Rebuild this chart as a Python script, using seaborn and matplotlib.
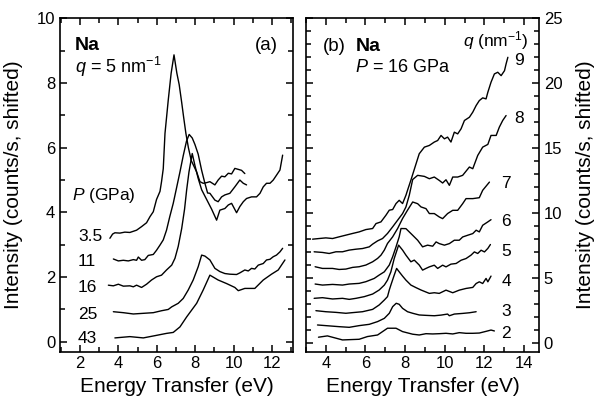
import matplotlib
matplotlib.use("Agg")
import matplotlib.pyplot as plt
import seaborn as sns
import pandas as pd
from matplotlib.ticker import MultipleLocator

# ---------------- Panel (a): Na, q = 5 nm^-1, several pressures ----------------
pressures = ["3.5", "11", "16", "25", "43"]

p35_E = [3.56, 3.70, 3.82, 4.08, 4.34, 4.60, 4.95, 5.21, 5.47, 5.65, 5.82, 5.99, 6.17, 6.25, 6.34,
         6.43, 6.60, 6.75, 6.90, 7.05, 7.17, 7.30, 7.40, 7.52, 7.65, 7.80, 8.08, 8.25, 8.42, 8.60,
         8.77, 9.03, 9.20, 9.38, 9.55, 9.73, 9.90, 10.07, 10.25, 10.42, 10.59]
p35_I = [3.20, 3.33, 3.37, 3.36, 3.39, 3.38, 3.45, 3.56, 3.68, 3.87, 4.02, 4.40, 4.65, 4.95, 5.35,
         6.44, 7.47, 8.30, 8.87, 8.30, 7.95, 7.40, 6.95, 6.44, 6.00, 5.60, 5.25, 4.95, 4.90, 4.92,
         4.95, 4.85, 5.00, 5.12, 5.10, 5.21, 5.19, 5.36, 5.33, 5.30, 5.20]

p11_E = [3.74, 4.00, 4.26, 4.52, 4.78, 4.95, 5.04, 5.21, 5.38, 5.56, 5.82, 5.99, 6.17, 6.34, 6.51,
         6.68, 6.86, 7.03, 7.21, 7.38, 7.55, 7.69, 7.85, 7.99, 8.16, 8.34, 8.51, 8.65, 8.77, 9.03,
         9.20, 9.38, 9.55, 9.81, 10.07, 10.33, 10.51, 10.68]
p11_I = [2.56, 2.50, 2.52, 2.50, 2.54, 2.52, 2.62, 2.52, 2.54, 2.67, 2.70, 2.83, 2.99, 3.15, 3.45,
         3.87, 4.28, 4.75, 5.25, 5.75, 6.20, 6.41, 6.30, 6.10, 5.80, 5.30, 4.90, 4.60, 4.59, 4.38,
         4.33, 4.48, 4.54, 4.59, 4.79, 5.00, 4.90, 4.85]

p16_E = [3.48, 3.74, 4.00, 4.26, 4.60, 4.78, 4.95, 5.21, 5.47, 5.73, 5.99, 6.25, 6.51, 6.78, 6.95,
         7.12, 7.30, 7.45, 7.56, 7.68, 7.85, 7.99, 8.16, 8.34, 8.60, 8.86, 9.12, 9.29, 9.55, 9.73,
         9.90, 10.16, 10.33, 10.51, 10.68, 10.94, 11.20, 11.38, 11.55, 11.72, 11.90, 12.07, 12.24,
         12.42, 12.56]
p16_I = [1.75, 1.73, 1.78, 1.72, 1.73, 1.70, 1.75, 1.68, 1.78, 1.91, 2.01, 2.06, 2.22, 2.37, 2.58,
         2.95, 3.50, 4.10, 4.70, 5.25, 5.82, 5.45, 5.05, 4.70, 4.40, 4.10, 3.76, 4.07, 4.12, 4.23,
         4.28, 3.99, 4.18, 4.33, 4.43, 4.48, 4.48, 4.59, 4.79, 4.90, 4.90, 5.00, 5.15, 5.31, 5.77]

p25_E = [3.74, 4.26, 4.78, 5.30, 5.82, 6.25, 6.60, 6.78, 7.12, 7.38, 7.64, 7.90, 8.16, 8.34, 8.51,
         8.77, 9.03, 9.29, 9.55, 9.81, 10.16, 10.33, 10.59, 10.77, 10.94, 11.11, 11.29, 11.55, 11.72,
         11.90, 12.07, 12.24, 12.42, 12.56]
p25_I = [0.93, 0.90, 0.86, 0.88, 0.90, 0.96, 1.00, 1.08, 1.19, 1.34, 1.60, 1.91, 2.32, 2.68, 2.65,
         2.53, 2.27, 2.17, 2.11, 2.09, 2.08, 2.13, 2.22, 2.19, 2.27, 2.25, 2.37, 2.42, 2.53, 2.55,
         2.63, 2.68, 2.78, 2.89]

p43_E = [3.82, 4.60, 5.30, 5.91, 6.51, 6.86, 7.21, 7.56, 8.08, 8.42, 8.77, 9.20, 9.64, 10.07,
         10.25, 10.59, 11.11, 11.55, 11.98, 12.33, 12.68]
p43_I = [0.12, 0.16, 0.12, 0.19, 0.26, 0.29, 0.46, 0.77, 1.19, 1.60, 2.06, 1.91, 1.80, 1.68,
         1.58, 1.65, 1.65, 1.91, 2.09, 2.22, 2.53]

# label anchor (E, I) for pressure labels
p_label_E = [1.90, 1.90, 1.90, 1.90, 1.90]
p_label_I = [3.12, 2.34, 1.55, 0.72, -0.03]

# ---------------- Panel (b): Na, P = 16 GPa, several q ----------------
qvals = ["2", "3", "4", "5", "6", "7", "8", "9"]

q2_E = [3.63, 4.08, 4.45, 4.84, 5.68, 6.10, 6.61, 7.11, 7.54, 7.87, 8.38, 8.71, 9.05, 9.39, 9.72,
        10.06, 10.40, 10.73, 11.07, 11.41, 11.74, 12.08, 12.33, 12.50]
q2_I = [0.47, 0.57, 0.42, 0.26, 0.31, 0.52, 0.64, 1.16, 1.16, 0.90, 0.70, 0.64, 0.74, 0.72, 0.74,
        0.77, 0.72, 0.82, 0.77, 0.77, 0.79, 0.92, 1.02, 0.95]

q3_E = [3.58, 4.00, 4.67, 5.18, 5.68, 6.19, 6.61, 6.95, 7.20, 7.37, 7.55, 7.70, 7.87, 8.12, 8.38,
        8.71, 9.05, 9.47, 9.81, 10.14, 10.23, 10.48, 10.90, 11.24, 11.58]
q3_I = [1.41, 1.36, 1.28, 1.23, 1.36, 1.46, 1.67, 1.92, 2.31, 2.82, 3.08, 3.00, 2.69, 2.43, 2.31,
        2.18, 2.15, 2.12, 2.17, 2.25, 2.12, 2.25, 2.30, 2.35, 2.43]

q4_E = [3.50, 4.00, 4.51, 5.01, 5.35, 5.85, 6.36, 6.69, 6.95, 7.11, 7.20, 7.28, 7.45, 7.57, 7.70,
        7.87, 8.04, 8.29, 8.55, 8.80, 9.22, 9.47, 9.72, 10.06, 10.40, 10.73, 11.07, 11.41, 11.58,
        11.74, 11.91, 12.08, 12.17, 12.33]
q4_I = [2.51, 2.43, 2.38, 2.31, 2.36, 2.43, 2.61, 2.95, 3.33, 3.59, 4.10, 4.48, 5.25, 5.76, 5.50,
        5.17, 4.86, 4.48, 4.28, 4.10, 3.84, 3.89, 3.84, 4.09, 3.89, 4.09, 4.22, 4.30, 4.60, 4.73,
        4.60, 4.99, 4.73, 5.17]

q5_E = [3.41, 3.83, 4.34, 4.84, 5.18, 5.52, 5.94, 6.36, 6.69, 6.95, 7.11, 7.28, 7.45, 7.67, 7.87,
        8.04, 8.29, 8.46, 8.71, 8.88, 9.05, 9.22, 9.47, 9.64, 9.89, 10.06, 10.31, 10.57, 10.82,
        11.07, 11.32, 11.49, 11.66, 11.83, 12.00, 12.17, 12.30]
q5_I = [3.46, 3.51, 3.41, 3.46, 3.38, 3.46, 3.59, 3.79, 4.10, 4.48, 4.86, 5.50, 6.53, 7.55, 7.17,
        6.78, 6.27, 6.40, 6.02, 5.63, 5.76, 5.88, 6.01, 5.76, 6.01, 5.88, 6.09, 6.14, 6.39, 6.52,
        6.78, 7.03, 6.91, 7.16, 7.03, 7.30, 7.60]

q6_E = [3.46, 3.83, 4.34, 4.84, 5.18, 5.68, 6.02, 6.44, 6.69, 6.95, 7.20, 7.37, 7.54, 7.70, 7.79,
        8.04, 8.38, 8.63, 8.88, 9.13, 9.39, 9.56, 9.72, 9.98, 10.23, 10.48, 10.73, 10.90, 11.15,
        11.41, 11.58, 11.74, 11.91, 12.17, 12.33]
q6_I = [4.56, 4.48, 4.53, 4.48, 4.56, 4.61, 4.74, 4.99, 5.25, 5.50, 6.02, 6.66, 7.42, 8.19, 8.83,
        8.82, 8.31, 7.93, 7.42, 7.55, 7.47, 7.80, 7.67, 7.55, 7.67, 7.93, 7.93, 8.18, 8.31, 8.44,
        8.70, 8.57, 9.08, 9.34, 9.51]

q7_E = [3.46, 3.83, 4.34, 4.67, 5.01, 5.35, 5.68, 6.02, 6.36, 6.61, 6.78, 6.95, 7.11, 7.37, 7.62,
        7.87, 8.12, 8.38, 8.63, 8.80, 9.05, 9.22, 9.47, 9.72, 9.89, 10.14, 10.40, 10.65, 10.90,
        11.07, 11.41, 11.74, 11.91, 12.25]
q7_I = [5.89, 5.76, 5.76, 5.68, 5.71, 5.84, 5.89, 6.02, 6.27, 6.53, 6.78, 7.17, 7.68, 8.19, 8.83,
        9.60, 10.24, 10.87, 10.74, 10.49, 10.36, 9.98, 9.98, 9.72, 9.59, 9.98, 10.23, 10.23, 10.74,
        11.13, 11.13, 11.20, 11.77, 12.40]

q8_E = [3.41, 3.83, 4.17, 4.51, 4.84, 5.18, 5.52, 5.85, 6.19, 6.36, 6.61, 6.86, 7.11, 7.37, 7.62,
        7.87, 8.04, 8.21, 8.38, 8.63, 8.97, 9.22, 9.47, 9.72, 9.89, 10.06, 10.23, 10.40, 10.65,
        10.90, 11.24, 11.41, 11.66, 11.91, 12.17, 12.33, 12.59, 12.75, 12.92, 13.09]
q8_I = [7.04, 6.99, 6.91, 7.04, 7.04, 7.17, 7.24, 7.29, 7.42, 7.63, 7.88, 8.06, 8.45, 8.96, 9.47,
        9.98, 10.49, 11.40, 12.60, 12.92, 12.84, 12.66, 12.79, 12.53, 12.33, 12.58, 12.15, 12.79,
        12.79, 12.92, 13.56, 13.43, 14.45, 15.09, 15.30, 15.99, 15.99, 16.63, 17.14, 17.52]

q9_E = [3.33, 3.66, 4.00, 4.34, 4.67, 5.01, 5.35, 5.68, 6.02, 6.36, 6.53, 6.78, 7.03, 7.20, 7.37,
        7.54, 7.70, 7.87, 8.04, 8.12, 8.30, 8.55, 8.71, 8.97, 9.22, 9.47, 9.64, 9.81, 9.98, 10.14,
        10.31, 10.48, 10.65, 10.82, 10.99, 11.24, 11.41, 11.58, 11.74, 11.91, 12.08, 12.17, 12.33,
        12.50, 12.67, 12.84, 13.01, 13.09, 13.18]
q9_I = [8.01, 8.06, 8.11, 8.06, 8.19, 8.32, 8.45, 8.57, 8.75, 8.83, 9.21, 9.34, 9.85, 10.24, 10.29,
        10.75, 11.00, 10.75, 11.39, 11.77, 12.60, 13.81, 14.58, 15.09, 15.22, 15.48, 15.60, 15.99,
        15.73, 15.86, 15.48, 16.24, 16.11, 16.50, 17.14, 17.39, 17.78, 18.29, 18.67, 18.88, 18.80,
        19.31, 20.08, 20.72, 20.85, 20.59, 20.97, 21.49, 22.00]

q_label_E = [12.84, 12.84, 12.84, 12.84, 12.84, 12.84, 13.51, 13.51]
q_label_I = [0.38, 2.10, 4.42, 6.71, 9.02, 11.91, 16.96, 21.39]

# ---------------- build tables ----------------
curves_a = [p35_E, p11_E, p16_E, p25_E, p43_E]
vals_a = [p35_I, p11_I, p16_I, p25_I, p43_I]
df_a = pd.concat([pd.DataFrame({"E": e, "I": i, "curve": lab})
                  for e, i, lab in zip(curves_a, vals_a, pressures)], ignore_index=True)

curves_b = [q2_E, q3_E, q4_E, q5_E, q6_E, q7_E, q8_E, q9_E]
vals_b = [q2_I, q3_I, q4_I, q5_I, q6_I, q7_I, q8_I, q9_I]
df_b = pd.concat([pd.DataFrame({"E": e, "I": i, "curve": lab})
                  for e, i, lab in zip(curves_b, vals_b, qvals)], ignore_index=True)

# ---------------- style ----------------
sns.set_style("ticks")
plt.rcParams["font.family"] = ["Liberation Sans", "DejaVu Sans"]
plt.rcParams["mathtext.fontset"] = "custom"
plt.rcParams["mathtext.rm"] = "Liberation Sans"
plt.rcParams["mathtext.it"] = "Liberation Sans:italic"
plt.rcParams["mathtext.bf"] = "Liberation Sans:bold"
plt.rcParams["axes.linewidth"] = 1.2
plt.rcParams["axes.edgecolor"] = "black"
plt.rcParams["text.color"] = "black"
plt.rcParams["axes.labelcolor"] = "black"
plt.rcParams["xtick.color"] = "black"
plt.rcParams["ytick.color"] = "black"

fig = plt.figure(figsize=(6.02, 4.03), dpi=100)
W, H = 602.0, 403.0
ax1 = fig.add_axes([60 / W, 1 - 351.5 / H, 233 / W, 333.2 / H])
ax2 = fig.add_axes([306 / W, 1 - 351.5 / H, 233 / W, 333.2 / H])

sns.lineplot(data=df_a, x="E", y="I", units="curve", estimator=None, sort=False,
             color="black", lw=1.0, ax=ax1, legend=False)
sns.lineplot(data=df_b, x="E", y="I", units="curve", estimator=None, sort=False,
             color="black", lw=1.0, ax=ax2, legend=False)

for ax in (ax1, ax2):
    ax.xaxis.set_major_locator(MultipleLocator(2))
    ax.xaxis.set_minor_locator(MultipleLocator(1))
    ax.tick_params(which="both", direction="in", top=True, right=True, bottom=True, left=True,
                   labelsize=12, width=1.1, colors="black")
    ax.tick_params(which="major", length=5)
    ax.tick_params(which="minor", length=3.5)
    ax.set_xlabel("Energy Transfer (eV)", fontsize=15, color="black")

ax1.set_xlim(0.96, 13.1)
ax1.set_ylim(-0.3, 10)
ax1.yaxis.set_major_locator(MultipleLocator(2))
ax1.yaxis.set_minor_locator(MultipleLocator(1))
ax1.set_ylabel("Intensity (counts/s, shifted)", fontsize=15, color="black")
ax1.yaxis.set_label_coords(-0.16, 0.5)

ax2.set_xlim(3.0, 14.75)
ax2.set_ylim(-0.63, 25)
ax2.yaxis.set_major_locator(MultipleLocator(5))
ax2.yaxis.set_minor_locator(MultipleLocator(1))
ax2.tick_params(labelleft=False, labelright=True)
ax2.yaxis.set_label_position("right")
ax2.set_ylabel("Intensity (counts/s, shifted)", fontsize=15, color="black")
ax2.yaxis.set_label_coords(1.16, 0.5)

# panel (a) annotations
ax1.text(0.064, 0.905, "Na", transform=ax1.transAxes, fontsize=14, fontweight="bold",
         va="baseline", ha="left")
ax1.text(0.064, 0.837, r"$q$ = 5 nm$^{-1}$", transform=ax1.transAxes, fontsize=13,
         va="baseline", ha="left")
ax1.text(0.937, 0.905, "(a)", transform=ax1.transAxes, fontsize=13.5, va="baseline", ha="right")
ax1.text(1.57, 4.38, r"$P$ (GPa)", fontsize=12.5, va="baseline", ha="left")
for lab, xe, yi in zip(pressures, p_label_E, p_label_I):
    ax1.text(xe, yi, lab, fontsize=12.5, va="baseline", ha="left")

# panel (b) annotations
ax2.text(0.072, 0.903, "(b)", transform=ax2.transAxes, fontsize=13.5, va="baseline", ha="left")
ax2.text(0.215, 0.903, "Na", transform=ax2.transAxes, fontsize=14, fontweight="bold",
         va="baseline", ha="left")
ax2.text(0.212, 0.840, r"$P$ = 16 GPa", transform=ax2.transAxes, fontsize=13,
         va="baseline", ha="left")
ax2.text(0.957, 0.915, r"$q$ (nm$^{-1}$)", transform=ax2.transAxes, fontsize=12.5,
         va="baseline", ha="right")
for lab, xe, yi in zip(qvals, q_label_E, q_label_I):
    ax2.text(xe, yi, lab, fontsize=12.5, va="baseline", ha="left")

fig.savefig("out.png", dpi=100)
